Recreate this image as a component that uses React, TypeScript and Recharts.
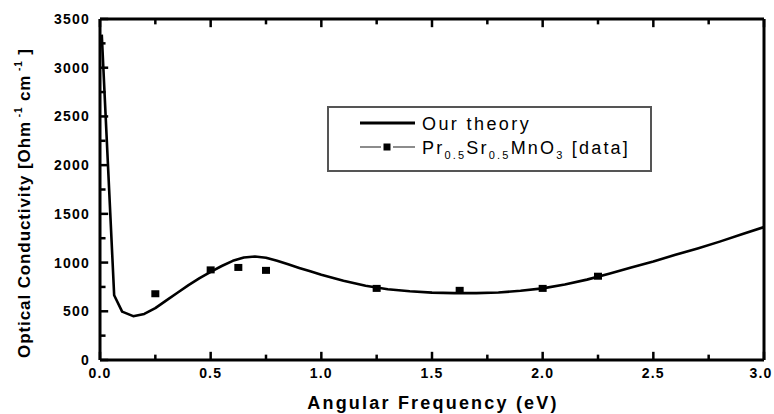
import React from "react";
import {
  ComposedChart,
  Line,
  Scatter,
  XAxis,
  YAxis,
  Legend,
  ReferenceLine,
} from "recharts";

// theory curve (eV -> Ohm^-1 cm^-1)
const theoryFreq = [
  0.008, 0.064, 0.1, 0.15, 0.2, 0.25, 0.3, 0.35, 0.4, 0.45, 0.5, 0.55, 0.6,
  0.65, 0.7, 0.75, 0.8, 0.85, 0.9, 0.95, 1.0, 1.1, 1.2, 1.3, 1.4, 1.5, 1.6,
  1.7, 1.8, 1.9, 2.0, 2.1, 2.2, 2.3, 2.4, 2.5, 2.6, 2.7, 2.8, 2.9, 3.0,
];
const theoryCond = [
  3340, 665, 497, 450, 473, 532, 612, 690, 768, 840, 905, 965, 1018, 1052,
  1062, 1050, 1018, 982, 945, 910, 875, 813, 762, 727, 705, 692, 686, 686,
  693, 710, 735, 775, 825, 885, 950, 1012, 1080, 1145, 1215, 1290, 1365,
];

// measured points
const dataFreq = [0.25, 0.5, 0.625, 0.75, 1.25, 1.625, 2.0, 2.25];
const dataCond = [680, 925, 950, 920, 735, 715, 735, 860];

const xTicks = [0, 0.25, 0.5, 0.75, 1, 1.25, 1.5, 1.75, 2, 2.25, 2.5, 2.75, 3];
const yTicks = [
  0, 250, 500, 750, 1000, 1250, 1500, 1750, 2000, 2250, 2500, 2750, 3000,
  3250, 3500,
];

const theory = theoryFreq.map((x, i) => ({ x, y: theoryCond[i] }));
const measured = dataFreq.map((x, i) => ({ x, y: dataCond[i] }));

const FONT = "'Liberation Sans', Arial, sans-serif";

const isMajorX = (v: number) => Math.abs(v * 2 - Math.round(v * 2)) < 1e-6;

// labels only; the inward tick marks are reference segments
const BottomTick = ({ x, y, payload }: any) => {
  if (!isMajorX(payload.value)) return <g />;
  const lx = payload.value === 3 ? x - 3 : x;
  return (
    <text x={lx} y={y + 18} textAnchor="middle" fontFamily={FONT} fontSize={14}
      fontWeight="bold" letterSpacing={1.2} fill="#000">
      {payload.value.toFixed(1)}
    </text>
  );
};

const LeftTick = ({ x, y, payload }: any) => {
  if (payload.value % 500 !== 0) return <g />;
  return (
    <text x={x - 10} y={y + 5} textAnchor="end" fontFamily={FONT} fontSize={14}
      fontWeight="bold" letterSpacing={1.2} fill="#000">
      {payload.value}
    </text>
  );
};

const YTitle = () => (
  <text transform="translate(30,203) rotate(-90)" textAnchor="middle" fontFamily={FONT}
    fontSize={17} fontWeight="bold" letterSpacing={0.9} fill="#000">
    Optical Conductivity [Ohm
    <tspan fontSize={10} dy={-8}> -1</tspan>
    <tspan dy={8}> cm</tspan>
    <tspan fontSize={10} dy={-8}> -1</tspan>
    <tspan dy={8}> ]</tspan>
  </text>
);

const XTitle = ({ viewBox }: any) => (
  <text x={viewBox.x + viewBox.width / 2 + 1} y={409} textAnchor="middle" fontFamily={FONT}
    fontSize={18} fontWeight="bold" letterSpacing={2.2} fill="#000">
    Angular Frequency (eV)
  </text>
);

const LegendBox = () => (
  <svg width={325} height={66} style={{ display: "block" }}>
    <rect x={1} y={1} width={323} height={64} fill="#fff" stroke="#555" strokeWidth={2} />
    <line x1={33} x2={88} y1={17} y2={17} stroke="#000" strokeWidth={3} />
    <text x={95} y={24} fontFamily={FONT} fontSize={18} letterSpacing={2.4} fill="#000">
      Our theory
    </text>
    <line x1={33} x2={54} y1={41} y2={41} stroke="#666" strokeWidth={1.5} />
    <line x1={66} x2={88} y1={41} y2={41} stroke="#666" strokeWidth={1.5} />
    <rect x={56.5} y={37.5} width={7} height={7} fill="#000" />
    <text x={95} y={48} fontFamily={FONT} fontSize={18} letterSpacing={2.2} fill="#000">
      Pr
      <tspan fontSize={11} dy={5}>0.5</tspan>
      <tspan dy={-5}>Sr</tspan>
      <tspan fontSize={11} dy={5}>0.5</tspan>
      <tspan dy={-5}>MnO</tspan>
      <tspan fontSize={11} dy={5}>3</tspan>
      <tspan dy={-5}> [data]</tspan>
    </text>
  </svg>
);

const SquareDot = ({ cx, cy }: any) => (
  <rect x={cx - 4} y={cy - 3.5} width={8} height={7} fill="#000" />
);

// tick lengths in data units (about 8px major / 5px minor)
const X_TICK_MAJOR = 84;
const X_TICK_MINOR = 55;
const Y_TICK_MAJOR = 0.037;
const Y_TICK_MINOR = 0.025;

export default function App() {
  return (
    <div style={{ position: "absolute", left: 0, top: 0, background: "#fff" }}>
      <ComposedChart width={774} height={414} margin={{ top: 0, right: 0, bottom: 0, left: 0 }}>
        <XAxis type="number" dataKey="x" domain={[0, 3]} ticks={xTicks} interval={0}
          height={54} tickSize={0} tickMargin={0} tick={<BottomTick />}
          axisLine={{ stroke: "#000", strokeWidth: 3 }} tickLine={false}
          label={{ content: <XTitle /> }} />
        <XAxis xAxisId="top" orientation="top" type="number" dataKey="x" domain={[0, 3]}
          height={19} tick={false} tickLine={false}
          axisLine={{ stroke: "#000", strokeWidth: 3 }} />
        <YAxis type="number" domain={[0, 3500]} ticks={yTicks} interval={0} width={100}
          tickSize={0} tickMargin={0} tick={<LeftTick />}
          axisLine={{ stroke: "#000", strokeWidth: 3 }} tickLine={false}
          label={{ content: <YTitle /> }} />
        <YAxis yAxisId="right" orientation="right" type="number" domain={[0, 3500]}
          width={10} tick={false} tickLine={false}
          axisLine={{ stroke: "#000", strokeWidth: 3 }} />
        <Legend layout="vertical" align="center" verticalAlign="middle"
          wrapperStyle={{ left: 327, top: 106, width: 325, height: 66 }}
          content={<LegendBox />} />
        {xTicks.map((t) => {
          const len = isMajorX(t) ? X_TICK_MAJOR : X_TICK_MINOR;
          return [
            <ReferenceLine key={`b${t}`} segment={[{ x: t, y: 0 }, { x: t, y: len }]}
              stroke="#000" strokeWidth={2.5} />,
            <ReferenceLine key={`t${t}`} segment={[{ x: t, y: 3500 - len }, { x: t, y: 3500 }]}
              stroke="#000" strokeWidth={2.5} />,
          ];
        })}
        {yTicks.map((t) => (
          <ReferenceLine key={`l${t}`}
            segment={[{ x: 0, y: t }, { x: t % 500 === 0 ? Y_TICK_MAJOR : Y_TICK_MINOR, y: t }]}
            stroke="#000" strokeWidth={2.5} />
        ))}
        <Line data={theory} dataKey="y" xAxisId="top" yAxisId="right" stroke="none"
          dot={false} activeDot={false} legendType="none" isAnimationActive={false} />
        <Line data={theory} dataKey="y" name="Our theory" type="linear" stroke="#000"
          strokeWidth={2.6} strokeLinejoin="round" dot={false} activeDot={false}
          isAnimationActive={false} />
        <Scatter data={measured} dataKey="y" name="data" shape={<SquareDot />}
          isAnimationActive={false} />
      </ComposedChart>
    </div>
  );
}
